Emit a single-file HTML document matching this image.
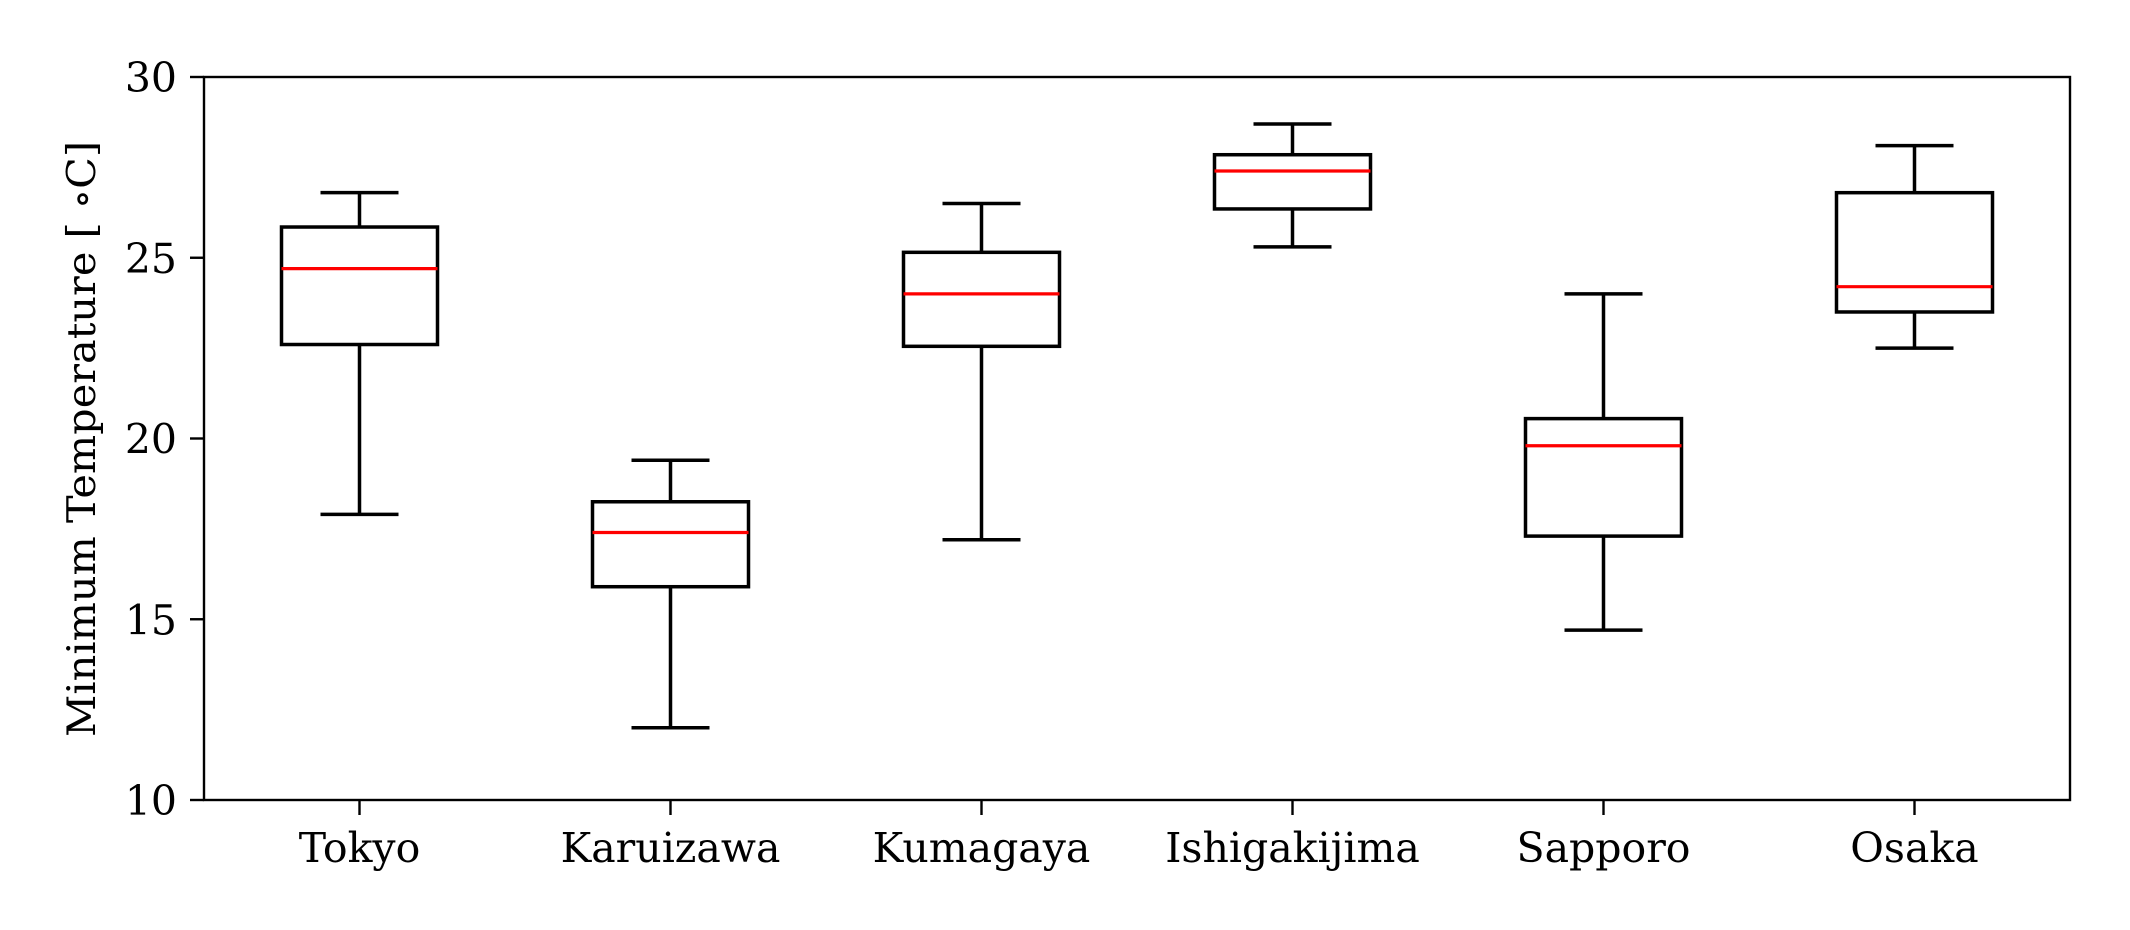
<!DOCTYPE html>
<html><head><meta charset="utf-8"><style>
html,body{margin:0;padding:0;background:#fff;}
svg{display:block;}
text{font-family:"DejaVu Serif","Liberation Serif",serif;fill:#000;}
</style></head><body>
<svg id="chart" width="2130" height="930" viewBox="0 0 2130 930" xmlns="http://www.w3.org/2000/svg">
<rect x="0" y="0" width="2130" height="930" fill="#fff"/>
<g id="plot"></g>
</svg>
<script>
const categories=["Tokyo","Karuizawa","Kumagaya","Ishigakijima","Sapporo","Osaka"];
const whiskerLow=[17.9,12.0,17.2,25.3,14.7,22.5];
const q1=[22.6,15.9,22.55,26.35,17.3,23.5];
const medians=[24.7,17.4,24.0,27.4,19.8,24.2];
const q3=[25.85,18.25,25.15,27.85,20.55,26.8];
const whiskerHigh=[26.8,19.4,26.5,28.7,24.0,28.1];
const yTicks=[10,15,20,25,30];

const L=204,R=2070,T=77,B=800,yMin=10,yMax=30;
const ns="http://www.w3.org/2000/svg";
const g=document.getElementById('plot');
const y=v=>B-(v-yMin)/(yMax-yMin)*(B-T);
const step=(R-L)/categories.length;
const x=i=>L+step*(i+0.5);
function mk(tag,attrs,parent){const e=document.createElementNS(ns,tag);for(const k in attrs)e.setAttribute(k,attrs[k]);(parent||g).appendChild(e);return e;}

yTicks.forEach(t=>{
  const tk=mk('line',{x1:L-14,x2:L,y1:y(t),y2:y(t),stroke:'#000','stroke-width':2.4});
  
  
  const tx=mk('text',{x:L-27,y:y(t)+15,'text-anchor':'end','font-size':41});
  tx.textContent=t;
  
  
});
categories.forEach((c,i)=>{
  const cx=x(i);
  const grp=mk('g',{});
  
  
  const s={stroke:'#000','stroke-width':3.5,fill:'none'};
  mk('line',Object.assign({x1:cx,x2:cx,y1:y(whiskerLow[i]),y2:y(q1[i])},s),grp);
  mk('line',Object.assign({x1:cx,x2:cx,y1:y(q3[i]),y2:y(whiskerHigh[i])},s),grp);
  mk('line',Object.assign({x1:cx-39,x2:cx+39,y1:y(whiskerLow[i]),y2:y(whiskerLow[i])},s),grp);
  mk('line',Object.assign({x1:cx-39,x2:cx+39,y1:y(whiskerHigh[i]),y2:y(whiskerHigh[i])},s),grp);
  mk('rect',Object.assign({x:cx-78,y:y(q3[i]),width:156,height:y(q1[i])-y(q3[i])},s),grp);
  const m=mk('line',{x1:cx-78,x2:cx+78,y1:y(medians[i]),y2:y(medians[i]),stroke:'#ff0000','stroke-width':3.2},grp);
  
  
  const tk=mk('line',{x1:cx,x2:cx,y1:B,y2:B+15,stroke:'#000','stroke-width':2.4});
  
  
  const tx=mk('text',{x:cx,y:862,'text-anchor':'middle','font-size':41});
  tx.textContent=c;
  
  
});
const frame=mk('rect',{x:L,y:T,width:R-L,height:B-T,fill:'none',stroke:'#000','stroke-width':2.4});


const yl=mk('text',{x:0,y:0,'text-anchor':'middle','font-size':39,textLength:596,lengthAdjust:'spacingAndGlyphs',transform:`translate(95,439) rotate(-90)`});
yl.textContent='Minimum Temperature [ \u2218C]';


</script>
</body></html>
